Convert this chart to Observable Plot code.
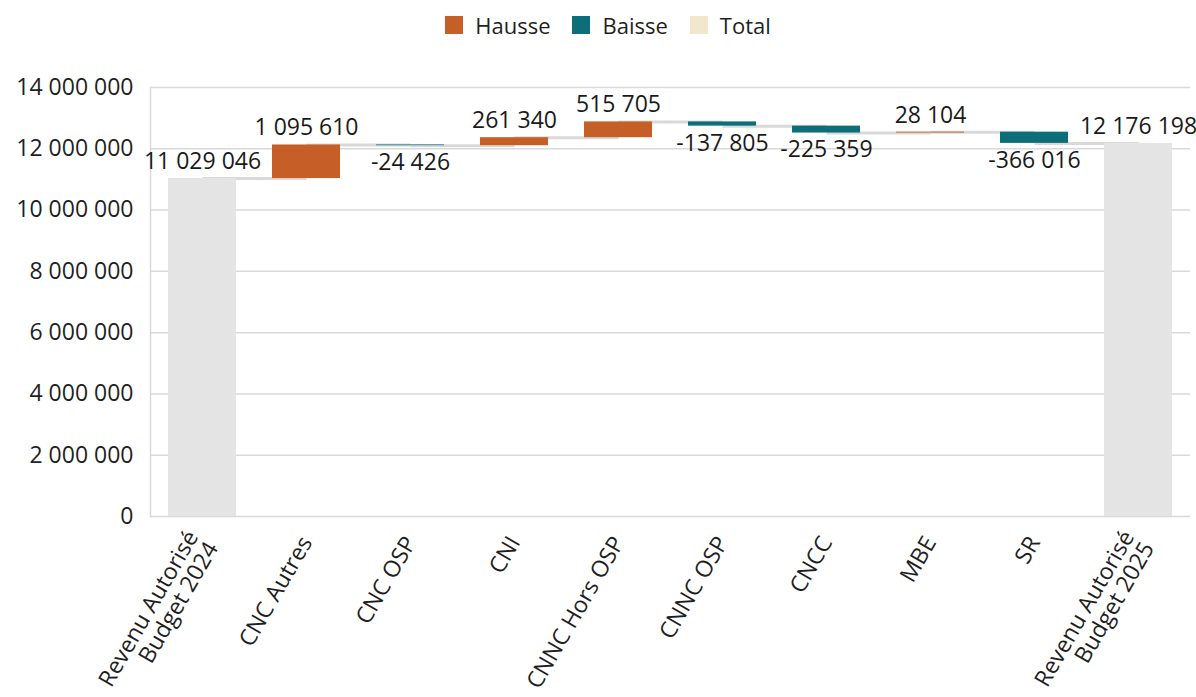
<!DOCTYPE html>
<html>
<head>
<meta charset="utf-8">
<script src="https://cdn.jsdelivr.net/npm/d3@7"></script>
<script src="https://cdn.jsdelivr.net/npm/@observablehq/plot@0.6"></script>
<style>
  body { margin: 0; background: #fff; font-family: "Open Sans", sans-serif; }
  #legend { height: 50px; display: flex; justify-content: center; align-items: center; gap: 22px; font-size: 22px; color: #1f1f1f; padding-left: 20px; box-sizing: border-box; }
  #legend .item { display: flex; align-items: center; gap: 12px; }
  #legend .sw { width: 18px; height: 18px; display: inline-block; }
  svg { display: block; }
</style>
</head>
<body>
<div id="legend"></div>
<div id="chart"></div>
<script>
const categories = ["Revenu Autorisé\nBudget 2024", "CNC Autres", "CNC OSP", "CNI", "CNNC Hors OSP", "CNNC OSP", "CNCC", "MBE", "SR", "Revenu Autorisé\nBudget 2025"];
const values = [11029046, 1095610, -24426, 261340, 515705, -137805, -225359, 28104, -366016, 12176198];
const kinds = ["Total", "Hausse", "Baisse", "Hausse", "Hausse", "Baisse", "Baisse", "Hausse", "Baisse", "Total"];
const yTicks = [0, 2000000, 4000000, 6000000, 8000000, 10000000, 12000000, 14000000];
const legendNames = ["Hausse", "Baisse", "Total"];
const legendColors = ["#C55F27", "#0C6E79", "#F2E7CD"];
const barColors = {Hausse: "#C55F27", Baisse: "#0C6E79", Total: "#E4E4E4"};

const loc = d3.formatLocale({decimal: ",", thousands: " ", grouping: [3], currency: ["", " €"], minus: "-"});
const fmt = loc.format(",d");

// Build waterfall rows
let run = 0;
const rows = categories.map((c, i) => {
  const v = values[i], k = kinds[i];
  let start, end;
  if (k === "Total") { start = 0; end = v; }
  else { start = run; end = run + v; }
  run = end;
  return {cat: c, value: v, kind: k, start, end, top: Math.max(start, end), bottom: Math.min(start, end)};
});
const connectors = rows.slice(1).map((r, i) => ({from: rows[i].cat, to: r.cat, level: rows[i].end}));

// Legend
const legend = document.getElementById("legend");
legendNames.forEach((n, i) => {
  const it = document.createElement("span");
  it.className = "item";
  it.innerHTML = `<span class="sw" style="background:${legendColors[i]}"></span><span>${n}</span>`;
  legend.appendChild(it);
});

const chart = Plot.plot({
  width: 1196,
  height: 647,
  marginTop: 37,
  marginBottom: 181,
  marginLeft: 150,
  marginRight: 6,
  style: {fontFamily: "Open Sans, sans-serif", fontSize: "23px", color: "#1f1f1f", background: "white"},
  x: {domain: categories, paddingInner: 0.35, paddingOuter: 0.175, label: null},
  y: {domain: [0, 14000000], label: null},
  marks: [
    Plot.gridY(yTicks, {stroke: "#D9D9D9", strokeOpacity: 1, strokeWidth: 1.5}),
    Plot.frame({anchor: "left", stroke: "#D9D9D9", strokeWidth: 1.5}),
    Plot.axisY({ticks: yTicks, tickFormat: fmt, tickSize: 0, tickPadding: 17, fontSize: 23, fill: "#1f1f1f", label: null}),
    Plot.axisX({tickRotate: -60, tickSize: 0, tickPadding: 22, fontSize: 23, fill: "#1f1f1f", label: null}),
    Plot.link(connectors, {x1: "from", x2: "to", y1: "level", y2: "level", stroke: "#D9D9D9", strokeWidth: 3}),
    Plot.barY(rows, {x: "cat", y1: "start", y2: "end", fill: d => barColors[d.kind]}),
    Plot.text(rows.filter(d => d.value >= 0), {x: "cat", y: "top", text: d => fmt(d.value), dy: -17, fontSize: 23, fill: "#1a1a1a"}),
    Plot.text(rows.filter(d => d.value < 0), {x: "cat", y: "bottom", text: d => fmt(d.value), dy: 17, fontSize: 23, fill: "#1a1a1a"})
  ]
});
document.getElementById("chart").appendChild(chart);
</script>
</body>
</html>
